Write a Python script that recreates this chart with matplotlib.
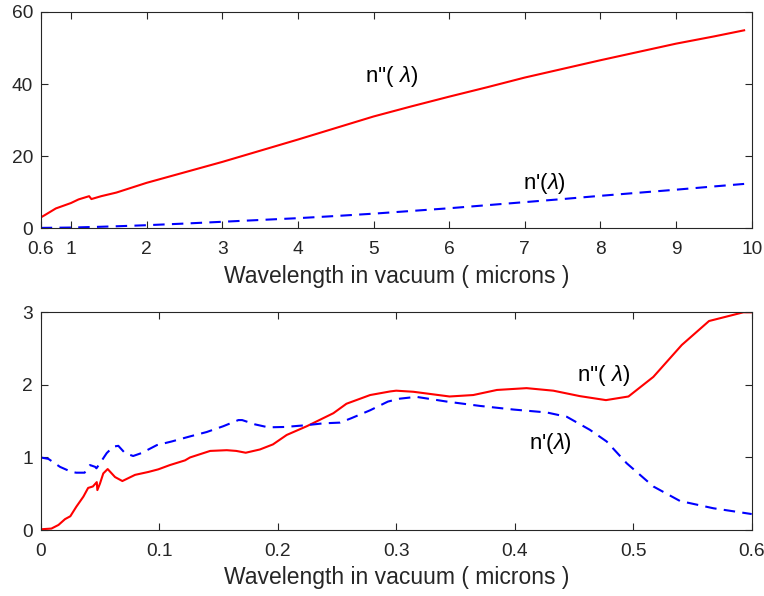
import matplotlib
matplotlib.use("Agg")
import matplotlib.pyplot as plt

# Long-wavelength range (microns)
lw_wl = [0.6, 0.65, 0.8, 1.0, 1.1, 1.24, 1.27, 1.4, 1.6, 2.0, 2.5, 3.0, 3.5, 4.0, 4.5,
         5.0, 5.5, 6.0, 6.5, 7.0, 7.5, 8.0, 8.5, 9.0, 9.5, 9.9]
lw_n2 = [3.0, 3.6, 5.5, 7.0, 8.0, 8.9, 8.1, 8.9, 9.9, 12.6, 15.5, 18.4, 21.5, 24.6, 27.8,
         31.0, 33.8, 36.5, 39.1, 41.8, 44.2, 46.6, 48.9, 51.2, 53.2, 54.9]
lw_n1 = [0.1, 0.12, 0.15, 0.2, 0.25, 0.33, 0.34, 0.42, 0.55, 0.85, 1.3, 1.8, 2.3, 2.8, 3.4,
         4.05, 4.8, 5.55, 6.4, 7.25, 8.1, 9.0, 9.85, 10.7, 11.6, 12.3]

# Short-wavelength range (microns)
sw_wl_k = [0.0, 0.009, 0.015, 0.0205, 0.025, 0.030, 0.036, 0.040, 0.044, 0.0473, 0.0478,
           0.050, 0.0528, 0.0565, 0.0627, 0.0689, 0.0796, 0.0908, 0.0992, 0.109, 0.1218,
           0.126, 0.143, 0.157, 0.165, 0.173, 0.185, 0.196, 0.2076, 0.2245, 0.247, 0.258,
           0.278, 0.295, 0.300, 0.3145, 0.345, 0.365, 0.385, 0.410, 0.4326, 0.455, 0.477,
           0.496, 0.517, 0.541, 0.564, 0.593, 0.600]
sw_n2 = [0.01, 0.02, 0.07, 0.15, 0.19, 0.32, 0.46, 0.58, 0.60, 0.66, 0.55,
         0.64, 0.78, 0.84, 0.73, 0.675, 0.76, 0.80, 0.836, 0.895, 0.96,
         1.0, 1.09, 1.10, 1.09, 1.065, 1.11, 1.18, 1.31, 1.43, 1.61, 1.74,
         1.86, 1.91, 1.92, 1.905, 1.84, 1.86, 1.93, 1.955, 1.92, 1.845, 1.79,
         1.84, 2.11, 2.55, 2.88, 3.0, 3.0]

sw_wl_n = [0.0, 0.0065, 0.0163, 0.026, 0.030, 0.037, 0.0416, 0.046, 0.047, 0.050, 0.0557,
           0.0613, 0.0655, 0.0711, 0.078, 0.085, 0.098, 0.1105, 0.126, 0.140, 0.154,
           0.1668, 0.170, 0.181, 0.192, 0.206, 0.2245, 0.2385, 0.2526, 0.262, 0.278,
           0.293, 0.303, 0.317, 0.3426, 0.3707, 0.399, 0.427, 0.444, 0.4635, 0.4776,
           0.4945, 0.517, 0.5395, 0.5676, 0.600]
sw_n1 = [1.0, 0.98, 0.87, 0.80, 0.79, 0.79, 0.895, 0.87, 0.85, 0.92, 1.06,
         1.15, 1.16, 1.06, 1.02, 1.06, 1.17, 1.22, 1.29, 1.35, 1.43,
         1.515, 1.515, 1.455, 1.415, 1.42, 1.445, 1.47, 1.48, 1.54, 1.65,
         1.77, 1.81, 1.835, 1.77, 1.71, 1.66, 1.62, 1.56, 1.38, 1.22,
         0.92, 0.60, 0.40, 0.30, 0.22]

top_xticks = [0.6, 1, 2, 3, 4, 5, 6, 7, 8, 9, 10]
top_xticklabels = ["0.6", "1", "2", "3", "4", "5", "6", "7", "8", "9", "10"]
top_yticks = [0, 20, 40, 60]
bot_xticks = [0, 0.1, 0.2, 0.3, 0.4, 0.5, 0.6]
bot_xticklabels = ["0", "0.1", "0.2", "0.3", "0.4", "0.5", "0.6"]
bot_yticks = [0, 1, 2, 3]

xlabel = "Wavelength in vacuum ( microns )"
lbl_k = r"n''( $\lambda$)"
lbl_n = r"n'($\lambda$)"

plt.rcParams["font.family"] = ["Liberation Sans", "DejaVu Sans"]
plt.rcParams["mathtext.fontset"] = "custom"
plt.rcParams["mathtext.rm"] = "Liberation Sans"
plt.rcParams["mathtext.it"] = "Liberation Sans:italic"

axcol = "#262626"
fig = plt.figure(figsize=(7.64, 5.96), dpi=100)
ax1 = fig.add_axes([0.0533, 0.617, 0.9306, 0.363])
ax2 = fig.add_axes([0.0533, 0.1107, 0.9306, 0.3653])


def style(ax):
    for s in ax.spines.values():
        s.set_color(axcol)
        s.set_linewidth(0.8)
    ax.tick_params(direction="in", length=5, width=0.8, color=axcol,
                   labelcolor=axcol, labelsize=13.8, top=True, right=True)
    ax.tick_params(axis="x", pad=9)
    ax.tick_params(axis="y", pad=5.5)


ax1.plot(lw_wl, lw_n2, color="red", lw=1.5)
ax1.plot(lw_wl, lw_n1, color="blue", lw=1.5, dashes=(5.5, 3.5))
ax1.set_xlim(0.6, 10)
ax1.set_ylim(0, 60)
ax1.set_xticks(top_xticks)
ax1.set_xticklabels(top_xticklabels)
ax1.set_yticks(top_yticks)
style(ax1)
ax1.set_xlabel(xlabel, fontsize=16.5, color=axcol, labelpad=5)
ax1.text(5.24, 42.0, lbl_k, fontsize=16, ha="center", va="center")
ax1.text(7.26, 12.5, lbl_n, fontsize=16, ha="center", va="center")

ax2.plot(sw_wl_k, sw_n2, color="red", lw=1.5)
ax2.plot(sw_wl_n, sw_n1, color="blue", lw=1.5, dashes=(5.5, 3.5))
ax2.set_xlim(0, 0.6)
ax2.set_ylim(0, 3)
ax2.set_xticks(bot_xticks)
ax2.set_xticklabels(bot_xticklabels)
ax2.set_yticks(bot_yticks)
style(ax2)
ax2.set_xlabel(xlabel, fontsize=16.5, color=axcol, labelpad=5)
ax2.text(0.4748, 2.135, lbl_k, fontsize=16, ha="center", va="center")
ax2.text(0.4305, 1.194, lbl_n, fontsize=16, ha="center", va="center")

fig.savefig("out.png", dpi=100)
